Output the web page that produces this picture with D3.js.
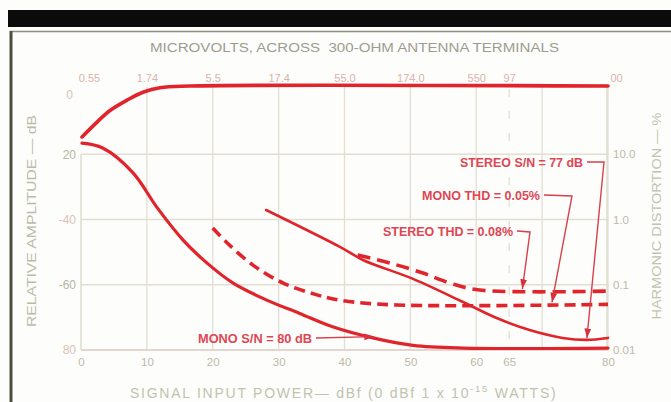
<!DOCTYPE html>
<html><head><meta charset="utf-8">
<script src="https://cdn.jsdelivr.net/npm/d3@7"></script>
<style>
html,body{margin:0;padding:0;background:#fdfdfb;}
svg{display:block;}
text{font-family:"Liberation Sans","DejaVu Sans",sans-serif;}
</style></head>
<body>
<svg id="chart" width="671" height="402"></svg>
<script>
// ---------- data ----------
const dbfTicks = [0,10,20,30,40,50,60,65,80];
const dbfTickLabels = ["0","10","20","30","40","50","60","65","80"];
const gridDbf = [10,20,30,40,50,60,70,80];
const refDbf = [65];
const topDbf = [0,10,20,30,40,50,60,65,80];
const topLabels = ["0.55","1.74","5.5","17.4","55.0","174.0","550","97","00"];
const leftTicks = [0,20,40,60,80];
const leftLabels = ["0","20","-40","-60","80"];
const rightTicks = [10,1,0.1,0.01];
const rightLabels = ["10.0","1.0","0.1","0.01"];

// relative amplitude (dB down) vs dBf
const responseDbf = [0.15,2.2,4.4,7.0,9.4,12,16.5,80];
const responseDb  = [14.7,10.6,6.6,3.4,1.0,-0.4,-0.9,-0.9];
const monoSnDbf = [0.15,3.3,7.9,11.5,15.5,19.1,23.1,28.2,33.2,38.2,44.3,50.4,58,80];
const monoSnDb  = [16.6,18.1,25.7,36.2,46.3,53.3,59.5,64.7,68.8,72.9,76.3,78.6,79.4,79.4];
const stereoSnDbf = [28.1,39.3,42.8,50.4,58,63.1,68.1,73.1,76.8,80];
const stereoSnDb  = [37.1,48.4,52.4,58.2,65.3,70.2,73.9,76.3,76.9,76.3];
// harmonic distortion (%) vs dBf
const monoThdDbf = [20,22.2,26.1,30.7,35.8,39.3,47.9,80];
const monoThdPct = [0.74,0.437,0.20,0.106,0.070,0.058,0.049,0.05];
const stereoThdDbf = [42,46.9,51.9,56,60.5,80];
const stereoThdPct = [0.286,0.215,0.151,0.106,0.083,0.08];

const noteText = ["STEREO S/N = 77 dB","MONO THD = 0.05%","STEREO THD = 0.08%","MONO S/N = 80 dB"];
const noteTipDbf = [76.8,71.5,67,44.5];
const noteTipVal = [77,0.05,0.08,76.5];
const noteAxis = ["db","thd","thd","db"];

// ---------- layout ----------
const svg = d3.select("#chart");
const X0=81, X1=608, Y0=89, Y1=350;
const x = d3.scaleLinear().domain([0,80]).range([X0,X1]);
const yDb = d3.scaleLinear().domain([0,80]).range([Y0,Y1]);
const yThd = d3.scaleLog().domain([0.01,100]).range([Y1,Y0]);

const red = "#e1242c", grid = "#e2dfd2", axisText = "#bdb9a9", noteRed = "#dd4754";

svg.append("rect").attr("width",671).attr("height",402).attr("fill","#fdfdfb");
// frame
svg.append("rect").attr("x",8).attr("y",10).attr("width",663).attr("height",17).attr("fill","#0b0b0b");
svg.append("line").attr("x1",10).attr("x2",671).attr("y1",31.5).attr("y2",31.5).attr("stroke","#8d8f80").attr("stroke-width",1.5);
svg.append("line").attr("x1",11).attr("x2",11).attr("y1",31).attr("y2",402).attr("stroke","#4c4f40").attr("stroke-width",3);

// grid
const g = svg.append("g");
g.selectAll("line.v").data(gridDbf).join("line")
  .attr("x1",d=>x(d)).attr("x2",d=>x(d)).attr("y1",Y0-2).attr("y2",Y1)
  .attr("stroke",grid).attr("stroke-width",1.3);
g.selectAll("line.r").data(refDbf).join("line")
  .attr("x1",d=>x(d)).attr("x2",d=>x(d)).attr("y1",Y0).attr("y2",Y1)
  .attr("stroke",grid).attr("stroke-width",1.3).attr("stroke-dasharray","8,14");
g.selectAll("line.h").data([20,40,60]).join("line")
  .attr("x1",X0).attr("x2",X1).attr("y1",d=>yDb(d)).attr("y2",d=>yDb(d))
  .attr("stroke",grid).attr("stroke-width",1.3);
g.append("line").attr("x1",X0).attr("x2",X0).attr("y1",yDb(20)).attr("y2",Y1).attr("stroke","#d9dccb").attr("stroke-width",1.5);
g.append("line").attr("x1",X0).attr("x2",X1).attr("y1",Y1).attr("y2",Y1).attr("stroke","#e3d6cf").attr("stroke-width",2);

// axis labels via d3 axes (styled)
const axB = d3.axisBottom(x).tickValues(dbfTicks).tickFormat((d,i)=>dbfTickLabels[i]).tickSize(0).tickPadding(0);
svg.append("g").attr("transform",`translate(0,${Y1+8})`).call(axB)
  .call(s=>s.select(".domain").remove())
  .call(s=>s.selectAll("text").attr("fill",axisText).attr("font-size",11.5).attr("dy","0.71em"));
const axT = d3.axisTop(x).tickValues(topDbf).tickFormat((d,i)=>topLabels[i]).tickSize(0).tickPadding(0);
svg.append("g").attr("transform",`translate(0,${Y0-7})`).call(axT)
  .call(s=>s.select(".domain").remove())
  .call(s=>s.selectAll("text").attr("fill","#d8b4ac").attr("font-size",11).attr("dy",0)
     .attr("dx",(d,i)=> i===0?8:(i===topDbf.length-1?8:0)));
const axL = d3.axisLeft(yDb).tickValues(leftTicks).tickFormat((d,i)=>leftLabels[i]).tickSize(0).tickPadding(5);
svg.append("g").attr("transform",`translate(${X0},0)`).call(axL)
  .call(s=>s.select(".domain").remove())
  .call(s=>s.selectAll("text").attr("fill",(d,i)=>i%2?"#b3b6a2":"#dcc2b6").attr("font-size",12)
     .attr("dy",(d,i)=>i===0?"0.75em":"0.32em").attr("dx",(d,i)=>i===0?-3:0));
const axR = d3.axisRight(yThd).tickValues(rightTicks).tickFormat((d,i)=>rightLabels[i]).tickSize(0).tickPadding(6);
svg.append("g").attr("transform",`translate(${X1-1},0)`).call(axR)
  .call(s=>s.select(".domain").remove())
  .call(s=>s.selectAll("text").attr("fill",axisText).attr("font-size",11.5));
svg.append("line").attr("x1",X1-1).attr("x2",X1-1).attr("y1",Y0-3).attr("y2",Y1).attr("stroke","#dcdccc").attr("stroke-width",1.5);

// titles
svg.append("text").attr("x",150).attr("y",52).attr("font-size",12.5).attr("fill","#9c9c90")
  .attr("textLength",409).attr("lengthAdjust","spacingAndGlyphs")
  .text("MICROVOLTS, ACROSS  300-OHM ANTENNA TERMINALS").attr("xml:space","preserve");
const xt = svg.append("text").attr("x",130).attr("y",398).attr("font-size",14).attr("fill","#c0c3b0").attr("letter-spacing",1.75);
xt.append("tspan").text("SIGNAL INPUT POWER— dBf (0 dBf  1 x 10");
xt.append("tspan").attr("dy",-6).attr("font-size",9.5).text("-15");
xt.append("tspan").attr("dy",6).text(" WATTS)");
svg.append("text").attr("transform","translate(36,221) rotate(-90)").attr("text-anchor","middle")
  .attr("font-size",13).attr("fill","#b9bca8").attr("textLength",212).attr("lengthAdjust","spacingAndGlyphs")
  .text("RELATIVE AMPLITUDE — dB");
svg.append("text").attr("transform","translate(661,216) rotate(-90)").attr("text-anchor","middle")
  .attr("font-size",13).attr("fill","#c0c3b0").attr("textLength",207).attr("lengthAdjust","spacingAndGlyphs")
  .text("HARMONIC DISTORTION — %");

// curves
const curve = d3.curveCatmullRom.alpha(0.5);
const lineDb = d3.line().x(d=>x(d[0])).y(d=>yDb(d[1])).curve(curve);
const lineThd = d3.line().x(d=>x(d[0])).y(d=>yThd(d[1])).curve(curve);
const zip = (a,b)=>a.map((v,i)=>[v,b[i]]);
svg.append("path").attr("d",lineDb(zip(responseDbf,responseDb))).attr("fill","none").attr("stroke",red).attr("stroke-width",3.6).attr("stroke-linecap","round");
svg.append("path").attr("d",lineDb(zip(monoSnDbf,monoSnDb))).attr("fill","none").attr("stroke",red).attr("stroke-width",3.2).attr("stroke-linecap","round");
svg.append("path").attr("d",lineDb(zip(stereoSnDbf,stereoSnDb))).attr("fill","none").attr("stroke",red).attr("stroke-width",2.6).attr("stroke-linecap","round");
svg.append("path").attr("d",lineThd(zip(monoThdDbf,monoThdPct))).attr("fill","none").attr("stroke",red).attr("stroke-width",3.6).attr("stroke-dasharray","11,6");
svg.append("path").attr("d",lineThd(zip(stereoThdDbf,stereoThdPct))).attr("fill","none").attr("stroke",red).attr("stroke-width",3.6).attr("stroke-dasharray","13,7");

// annotations
const notePos = [[460,167,123],[422,200,118],[383,236,130],[198,343,114]];
const bends = [[604,162],[572,196],[530,232],null];
svg.append("defs").append("marker").attr("id","arr").attr("viewBox","0 0 10 10").attr("refX",10).attr("refY",5)
  .attr("markerWidth",7).attr("markerHeight",7).attr("orient","auto-start-reverse")
  .append("path").attr("d","M0,1.5 L10,5 L0,8.5 Z").attr("fill","#d9303c");
noteText.forEach((t,i)=>{
  const [tx,ty,tw] = notePos[i];
  svg.append("text").attr("x",tx).attr("y",ty).attr("font-size",12).attr("font-weight","bold")
    .attr("fill",noteRed).attr("textLength",tw).attr("lengthAdjust","spacingAndGlyphs").text(t);
  const tipX = x(noteTipDbf[i]);
  const tipY = noteAxis[i]==="db" ? yDb(noteTipVal[i]) : yThd(noteTipVal[i]);
  const pts = [[tx+tw+4, ty-5]];
  if (bends[i]) pts.push(bends[i]);
  pts.push([tipX, tipY-2]);
  svg.append("path").attr("d",d3.line()(pts)).attr("fill","none").attr("stroke","#d8404c").attr("stroke-width",1.4)
    .attr("marker-end","url(#arr)");
});
</script>
</body></html>
